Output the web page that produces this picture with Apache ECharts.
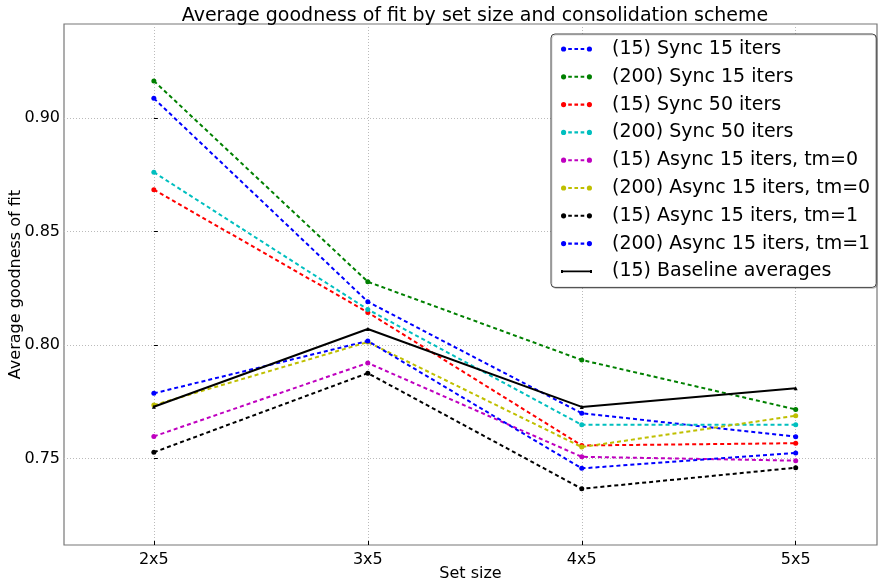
<!DOCTYPE html>
<html><head><meta charset="utf-8">
<script src="https://cdn.jsdelivr.net/npm/echarts@6/dist/echarts.min.js"></script>
<style>html,body{margin:0;padding:0;background:#fff}#c{width:878px;height:584px}</style>
</head><body><div id="c"></div>
<script>
const categories = ['2x5', '3x5', '4x5', '5x5'];
const yTicks = [0.75, 0.80, 0.85, 0.90];
const seriesNames = [
  '(15) Sync 15 iters', '(200) Sync 15 iters', '(15) Sync 50 iters', '(200) Sync 50 iters',
  '(15) Async 15 iters, tm=0', '(200) Async 15 iters, tm=0', '(15) Async 15 iters, tm=1',
  '(200) Async 15 iters, tm=1', '(15) Baseline averages'
];
const sync15_15 = [0.9088, 0.8191, 0.7699, 0.7596];
const sync15_200 = [0.9165, 0.8279, 0.7934, 0.7716];
const sync50_15 = [0.8685, 0.8144, 0.7557, 0.7567];
const sync50_200 = [0.8762, 0.8157, 0.7648, 0.7648];
const async0_15 = [0.7597, 0.7921, 0.7507, 0.7490];
const async0_200 = [0.7735, 0.8013, 0.7550, 0.7688];
const async1_15 = [0.7527, 0.7876, 0.7366, 0.7459];
const async1_200 = [0.7787, 0.8018, 0.7456, 0.7524];
const baseline15 = [0.7728, 0.8071, 0.7727, 0.7809];

const allValues = [sync15_15, sync15_200, sync50_15, sync50_200, async0_15, async0_200, async1_15, async1_200, baseline15];
const colors = ['#0000ff', '#008000', '#ff0000', '#00bfbf', '#bf00bf', '#bfbf00', '#000000', '#0000ff', '#000000'];

const dashIcon = 'path://M0.5,3 A2.5,2.5 0 1,0 5.5,3 A2.5,2.5 0 1,0 0.5,3 Z M7.5,2 h3.5 v2 h-3.5 Z M13.5,2 h3.5 v2 h-3.5 Z M19.5,2 h3.5 v2 h-3.5 Z M25.5,3 A2.5,2.5 0 1,0 30.5,3 A2.5,2.5 0 1,0 25.5,3 Z';
const solidIcon = 'path://M0,1.5 h2 v3 h-2 Z M0,2.2 h31 v1.6 h-31 Z M29,1.5 h2 v3 h-2 Z M0,0 h0.01 v0.01 h-0.01 Z M0,6 h0.01 v-0.01 h-0.01 Z';

const series = allValues.map((vals, i) => {
  const isBase = i === 8;
  return {
    name: seriesNames[i],
    type: 'line',
    data: vals.map((v, j) => [j, v]),
    symbol: isBase ? 'triangle' : 'circle',
    symbolSize: isBase ? 4 : 5,
    showSymbol: true,
    itemStyle: { color: colors[i] },
    lineStyle: { color: colors[i], width: 2, type: isBase ? 'solid' : [4, 3] },
    z: 2 + i,
    animation: false
  };
});

const chart = echarts.init(document.getElementById('c'), null, { renderer: 'canvas' });
chart.setOption({
  animation: false,
  textStyle: { fontFamily: 'DejaVu Sans' },
  title: {
    text: 'Average goodness of fit by set size and consolidation scheme',
    left: 470, top: 2, textAlign: 'center',
    textStyle: { fontFamily: 'DejaVu Sans', fontSize: 19, fontWeight: 'normal', color: '#000' }
  },
  grid: { left: 64, top: 24, right: 1, bottom: 39, show: true, borderColor: '#777', borderWidth: 1.2, containLabel: false, outerBoundsMode: 'none' },
  legend: {
    orient: 'vertical', left: 551, top: 34,
    padding: [5, 6, 6, 10], itemGap: 7.8, itemWidth: 31, itemHeight: 6,
    borderColor: '#444', borderWidth: 1, borderRadius: 4, backgroundColor: '#fff',
    shadowColor: 'rgba(0,0,0,0.15)', shadowBlur: 0, shadowOffsetX: 1, shadowOffsetY: 1,
    textStyle: { fontFamily: 'DejaVu Sans', fontSize: 19, color: '#000', lineHeight: 20, padding: [0, 0, 0, 15] },
    data: seriesNames.map((n, i) => ({ name: n, icon: i === 8 ? solidIcon : dashIcon }))
  },
  xAxis: {
    type: 'value', min: -0.42, max: 3.38,
    name: 'Set size', nameLocation: 'middle', nameGap: 21, nameMoveOverlap: false,
    nameTextStyle: { fontFamily: 'DejaVu Sans', fontSize: 16, color: '#000' },
    axisLine: { show: false },
    axisTick: { show: true, inside: true, length: 4, customValues: [0, 1, 2, 3], lineStyle: { color: '#000' } },
    axisLabel: { customValues: [0, 1, 2, 3], formatter: v => categories[Math.round(v)] || '', fontSize: 16, color: '#000', margin: 7, fontFamily: 'DejaVu Sans' },
    splitLine: { show: true, customValues: [0, 1, 2, 3], lineStyle: { color: '#bbb', type: [1, 2], width: 1 } }
  },
  yAxis: {
    type: 'value', min: 0.7118, max: 0.9416,
    name: 'Average goodness of fit', nameLocation: 'middle', nameGap: 40, nameRotate: 90, nameMoveOverlap: false,
    nameTextStyle: { fontFamily: 'DejaVu Sans', fontSize: 16, color: '#000' },
    axisLine: { show: false },
    axisTick: { show: true, inside: true, length: 4, customValues: yTicks, lineStyle: { color: '#000' } },
    axisLabel: { customValues: yTicks, formatter: v => v.toFixed(2), fontSize: 16, color: '#000', margin: 4, fontFamily: 'DejaVu Sans' },
    splitLine: { show: true, customValues: yTicks, lineStyle: { color: '#bbb', type: [1, 2], width: 1 } }
  },
  series: series
});
</script>
</body></html>
